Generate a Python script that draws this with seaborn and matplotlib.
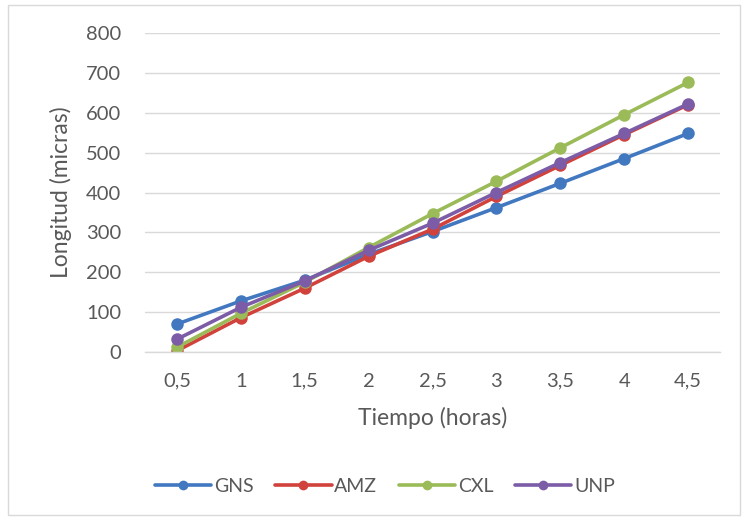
import matplotlib
matplotlib.use("Agg")
import matplotlib.pyplot as plt
import seaborn as sns
import pandas as pd
from matplotlib.patches import Rectangle

# Growth in length over time for four strains
tiempo = [0.5, 1.0, 1.5, 2.0, 2.5, 3.0, 3.5, 4.0, 4.5]
tiempo_labels = ["0,5", "1", "1,5", "2", "2,5", "3", "3,5", "4", "4,5"]
gns = [70, 128, 180, 245, 302, 362, 423, 485, 548]
amz = [3, 86, 160, 240, 308, 390, 468, 545, 620]
cxl = [12, 97, 175, 262, 347, 428, 512, 595, 676]
unp = [32, 112, 178, 255, 323, 400, 475, 548, 622]
series_names = ["GNS", "AMZ", "CXL", "UNP"]
y_ticks = [0, 100, 200, 300, 400, 500, 600, 700, 800]

colors = {"GNS": "#4178C0", "AMZ": "#D2423C", "CXL": "#9BBB59", "UNP": "#7C5CA6"}
text_color = "#595959"

df = pd.concat(
    [pd.DataFrame({"Tiempo": tiempo, "Longitud": vals, "Serie": name})
     for name, vals in zip(series_names, [gns, amz, cxl, unp])],
    ignore_index=True,
)

sns.set_theme(style="white")
plt.rcParams["font.family"] = ["Lato", "DejaVu Sans"]

fig = plt.figure(figsize=(7.45, 5.21), dpi=100)
ax = fig.add_axes([145 / 745, 1 - 352 / 521, (720 - 145) / 745, (352 - 33) / 521])

sns.lineplot(
    data=df, x="Tiempo", y="Longitud", hue="Serie", hue_order=series_names,
    palette=colors, marker="o", markersize=9, markeredgewidth=0,
    linewidth=2.6, sort=False, ax=ax,
)

ax.set_xlim(0.25, 4.75)
ax.set_ylim(0, 800)
ax.set_yticks(y_ticks)
ax.set_xticks(tiempo)
ax.set_xticklabels(tiempo_labels)
ax.yaxis.grid(True, color="#D9D9D9", linewidth=1)
ax.set_axisbelow(True)
for side in ["top", "right", "left"]:
    ax.spines[side].set_visible(False)
ax.spines["bottom"].set_color("#D9D9D9")
ax.spines["bottom"].set_linewidth(1)
ax.tick_params(axis="both", length=0, labelsize=14.5, colors=text_color)
ax.tick_params(axis="x", pad=15)
ax.tick_params(axis="y", pad=17)
ax.set_xlabel("Tiempo (horas)", fontsize=16.5, color=text_color, labelpad=12)
ax.set_ylabel("Longitud (micras)", fontsize=16.5, color=text_color, labelpad=10)

handles, labels = ax.get_legend_handles_labels()
ax.legend_.remove()
for h in handles:
    h.set_markersize(7)
fig.legend(
    handles, labels, loc="center", bbox_to_anchor=(385 / 745, 1 - 486 / 521),
    ncol=4, frameon=False, fontsize=14, handlelength=2.9, handletextpad=0.15,
    columnspacing=1.1, labelcolor=text_color,
)

fig.patches.append(Rectangle((8 / 745, 6 / 521), 732 / 745, 510 / 521,
                             transform=fig.transFigure, fill=False,
                             edgecolor="#D9D9D9", linewidth=1))

fig.savefig("out.png", dpi=100, facecolor="white")
